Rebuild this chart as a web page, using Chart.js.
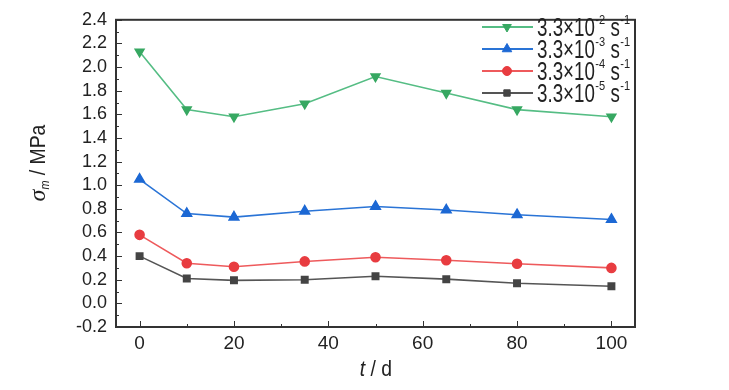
<!DOCTYPE html>
<html><head><meta charset="utf-8">
<script src="https://cdn.jsdelivr.net/npm/chart.js@4/dist/chart.umd.min.js"></script>
<style>html,body{margin:0;padding:0;background:#fff}#wrap{width:729px;height:390px}</style>
</head><body><div id="wrap"><canvas id="c" width="729" height="390"></canvas></div>
<script>
const days = [0, 10, 20, 35, 50, 65, 80, 100];
const s2 = [2.13, 1.64, 1.58, 1.69, 1.92, 1.78, 1.64, 1.58];
const s3 = [1.05, 0.76, 0.73, 0.78, 0.82, 0.79, 0.75, 0.71];
const s4 = [0.58, 0.34, 0.31, 0.355, 0.39, 0.365, 0.335, 0.30];
const s5 = [0.40, 0.21, 0.195, 0.20, 0.23, 0.205, 0.17, 0.145];
const seriesExp = ['-2', '-3', '-4', '-5'];
const xTicks = [0, 20, 40, 60, 80, 100];
const yTicks = [-0.2, 0.0, 0.2, 0.4, 0.6, 0.8, 1.0, 1.2, 1.4, 1.6, 1.8, 2.0, 2.2, 2.4];

const FONT = '"Liberation Sans", Arial, sans-serif';
const AX = '#333333';

const styles = [
  {line: '#55bd84', pt: '#37a862', ps: 'triangle', rot: 180, r: 5},
  {line: '#2a74d6', pt: '#1c68d4', ps: 'triangle', rot: 0, r: 5.5},
  {line: '#ee5a5c', pt: '#e83c40', ps: 'circle', rot: 0, r: 4.5},
  {line: '#555555', pt: '#444444', ps: 'rect', rot: 0, r: 4.5}
];
const vals = [s2, s3, s4, s5];

const datasets = vals.map((v, i) => ({
  label: '3.3×10' + seriesExp[i] + ' s-1',
  data: days.map((d, k) => ({x: d, y: v[k]})),
  borderColor: styles[i].line,
  backgroundColor: styles[i].pt,
  pointBackgroundColor: styles[i].pt,
  pointBorderColor: styles[i].pt,
  pointStyle: styles[i].ps,
  pointRotation: styles[i].rot,
  pointRadius: styles[i].r,
  borderWidth: 1.6,
  tension: 0
}));

function condText(ctx, txt, x, y, font, sx) {
  ctx.save();
  ctx.font = font;
  ctx.translate(x, y);
  ctx.scale(sx, 1);
  ctx.fillText(txt, 0, 0);
  const w = ctx.measureText(txt).width * sx;
  ctx.restore();
  return w;
}

const decor = {
  id: 'decor',
  afterDraw(chart) {
    const ctx = chart.ctx;
    const a = chart.chartArea;
    const xs = chart.scales.x, ys = chart.scales.y;
    ctx.save();
    ctx.strokeStyle = AX;
    ctx.lineWidth = 1;
    for (let v = 0; v <= 100; v += 10) {
      const px = Math.round(xs.getPixelForValue(v)) + 0.5;
      const len = (v % 20 === 0) ? 6 : 3;
      ctx.beginPath(); ctx.moveTo(px, a.bottom); ctx.lineTo(px, a.bottom - len); ctx.stroke();
    }
    for (let k = -2; k <= 24; k++) {
      const v = k / 10;
      const py = Math.round(ys.getPixelForValue(v)) + 0.5;
      const len = (k % 2 === 0) ? 6 : 3;
      ctx.beginPath(); ctx.moveTo(a.left, py); ctx.lineTo(a.left + len, py); ctx.stroke();
    }
    ctx.lineWidth = 2;
    ctx.strokeStyle = AX;
    ctx.strokeRect(a.left, a.top, a.right - a.left, a.bottom - a.top);

    // y title
    ctx.fillStyle = '#222';
    ctx.textBaseline = 'alphabetic';
    ctx.save();
    ctx.translate(45, 163);
    ctx.rotate(-Math.PI / 2);
    const f1 = 'italic 24px "Liberation Serif", serif';
    const f2 = 'italic 12px ' + FONT;
    const f3 = '22px ' + FONT;
    ctx.font = f1; const w1 = ctx.measureText('σ').width;
    ctx.font = f2; const w2 = ctx.measureText('m').width * 0.9;
    ctx.font = f3; const w3 = ctx.measureText(' / MPa').width * 0.88;
    let x0 = -(w1 + w2 + w3) / 2;
    ctx.font = f1; ctx.fillText('σ', x0, 0);
    condText(ctx, 'm', x0 + w1, 4, f2, 0.9);
    condText(ctx, ' / MPa', x0 + w1 + w2, 0, f3, 0.88);
    ctx.restore();

    // x title
    const ft1 = 'italic 22px ' + FONT, ft2 = '22px ' + FONT;
    ctx.font = ft1; const t1 = ctx.measureText('t').width * 0.88;
    ctx.font = ft2; const t2 = ctx.measureText(' / d').width * 0.88;
    let xt = 376 - (t1 + t2) / 2;
    condText(ctx, 't', xt, 376, ft1, 0.88);
    condText(ctx, ' / d', xt + t1, 376, ft2, 0.88);

    // legend
    const rowsY = [27, 49, 71, 93];
    chart.data.datasets.forEach((ds, i) => {
      const y = rowsY[i];
      ctx.strokeStyle = ds.borderColor;
      ctx.lineWidth = 2;
      ctx.beginPath(); ctx.moveTo(482, y); ctx.lineTo(533, y); ctx.stroke();
      ctx.fillStyle = ds.pointBackgroundColor;
      ctx.strokeStyle = ds.pointBorderColor;
      ctx.lineWidth = 1;
      Chart.helpers.drawPoint(ctx, {pointStyle: ds.pointStyle, rotation: ds.pointRotation, radius: ds.pointRadius, borderWidth: 1}, 507, y);
      ctx.fillStyle = '#222';
      let x = 537;
      const base = y + 9;
      const big = '25px ' + FONT, sm = '13px ' + FONT;
      x += condText(ctx, '3.3×10', x, base, big, 0.75) + 0.5;
      x += condText(ctx, seriesExp[i], x, base - 12, sm, 0.85);
      x += condText(ctx, ' s', x, base, big, 0.75) + 0.5;
      condText(ctx, '-1', x, base - 12, sm, 0.85);
    });
    ctx.restore();
  }
};

new Chart(document.getElementById('c'), {
  type: 'line',
  data: {datasets},
  options: {
    responsive: false,
    animation: false,
    layout: {padding: {top: 13, right: 94, left: 0, bottom: 0}},
    plugins: {legend: {display: false}, tooltip: {enabled: false}},
    scales: {
      x: {
        type: 'linear', min: -5, max: 105,
        afterBuildTicks: s => { s.ticks = xTicks.map(v => ({value: v})); },
        afterFit: s => { s.height = 63; },
        grid: {display: false, drawTicks: false},
        border: {display: false},
        ticks: {padding: 5, color: '#222', autoSkip: false, font: {family: FONT, size: 19}, maxRotation: 0}
      },
      y: {
        type: 'linear', min: -0.2, max: 2.4,
        afterBuildTicks: s => { s.ticks = yTicks.map(v => ({value: v})); },
        afterFit: s => { s.width = 116; },
        grid: {display: false, drawTicks: false},
        border: {display: false},
        ticks: {padding: 9, color: '#222', autoSkip: false, font: {family: FONT, size: 18}, callback: v => v.toFixed(1)}
      }
    }
  },
  plugins: [decor]
});
</script></body></html>
